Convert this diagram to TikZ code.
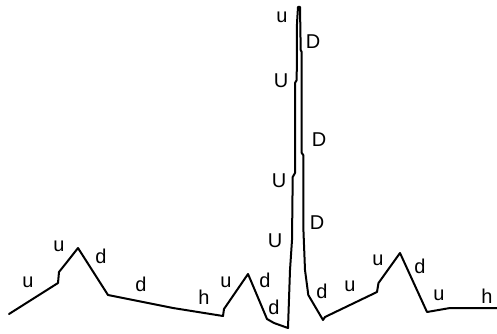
\documentclass[tikz,border=0pt]{standalone}
\usepackage{fontspec}
\setmainfont{Liberation Sans}
\begin{document}
\begin{tikzpicture}[x=1pt,y=-1pt,
  lbl/.style={font=\fontsize{20}{20}\selectfont, inner sep=0pt},
  trace/.style={line width=2pt, line join=round, line cap=round}]
\useasboundingbox (0,0) rectangle (497,334);
\draw[trace] (9,314) -- (58,283) -- (59,272) -- (67,262) -- (78,248) -- (108,295) -- (173,308)
  -- (223,316) -- (224,309) -- (248,274) -- (251,281) -- (267,319) -- (274,323) -- (288,328)
  -- (290,270) -- (292,240) -- (292.7,177) -- (295,173) -- (295,83) -- (296.7,80) -- (297,23) -- (298,7)
  -- (300,7) -- (300.7,50) -- (301.7,52) -- (301.7,153) -- (303.3,155) -- (303.3,227)
  -- (305,270) -- (308.3,295) -- (323,320) -- (325,317) -- (377,292) -- (378.5,283) -- (400,253)
  -- (427,312) -- (450,308) -- (497,308);
\node[lbl] (l1) at (28,282) {u};
\node[lbl] (l2) at (59,246) {u};
\node[lbl] (l3) at (101,256) {d};
\node[lbl] (l4) at (141,284) {d};
\node[lbl] (l5) at (204,297) {h};
\node[lbl] (l6) at (226,282) {u};
\node[lbl] (l7) at (265,280) {d};
\node[lbl] (l8) at (274,307) {d};
\node[lbl] (l9) at (275,241) {U};
\node[lbl] (l10) at (279,181) {U};
\node[lbl] (l11) at (281,81) {U};
\node[lbl] (l12) at (282,17) {u};
\node[lbl] (l13) at (313,42) {D};
\node[lbl] (l14) at (319,140) {D};
\node[lbl] (l15) at (317,223) {D};
\node[lbl] (l16) at (322,291) {d};
\node[lbl] (l17) at (350,286) {u};
\node[lbl] (l18) at (378,260) {u};
\node[lbl] (l19) at (420,266) {d};
\node[lbl] (l20) at (439,295) {u};
\node[lbl] (l21) at (487,296) {h};
\end{tikzpicture}
\end{document}
